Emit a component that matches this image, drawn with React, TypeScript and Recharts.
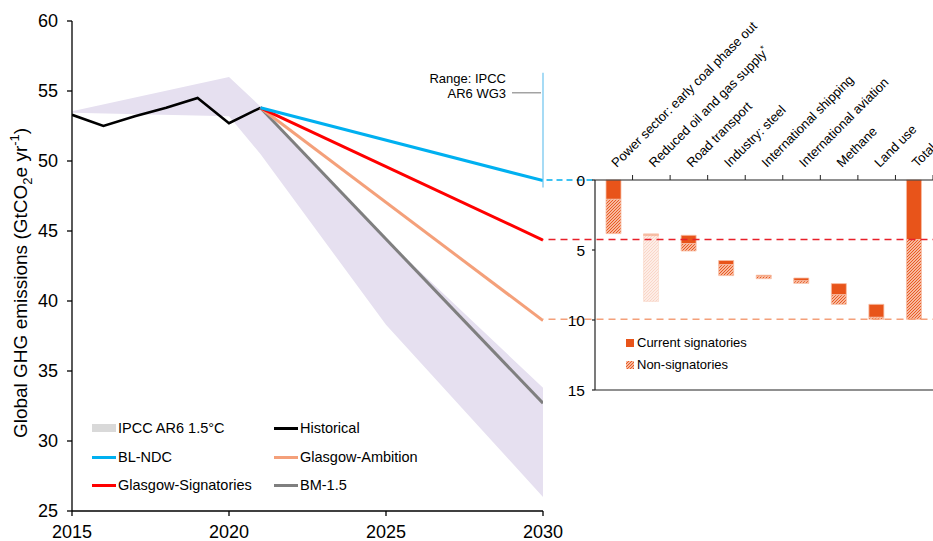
import React from 'react'
import {
  ComposedChart,
  Area,
  Line,
  Bar,
  Cell,
  XAxis,
  YAxis,
  ReferenceLine,
} from 'recharts'

// ---- left panel: global GHG emissions, GtCO2e/yr ----
const histYears = [2015, 2016, 2017, 2018, 2019, 2020, 2021]
const histValues = [53.3, 52.5, 53.2, 53.8, 54.5, 52.7, 53.8]

const rangeYears = [2015, 2020, 2021, 2025, 2030]
const rangeLow = [53.45, 53.2, 50.5, 38.3, 26.0]
const rangeHigh = [53.55, 56.0, 53.9, 44.4, 33.8]

const scenarioYears = [2021, 2030]
const blNdc = [53.8, 48.6]
const glasgowSignatories = [53.8, 44.35]
const glasgowAmbition = [53.8, 38.6]
const bm15 = [53.8, 32.7]

const ipccRange2030 = [48.1, 56.3]

const yearTicks = [2015, 2020, 2025, 2030]
const emissionTicks = [25, 30, 35, 40, 45, 50, 55, 60]

// ---- right panel: gap closed by each Glasgow measure ----
const measures = [
  'Power sector: early coal phase out',
  'Reduced oil and gas supply*',
  'Road transport',
  'Industry: steel',
  'International shipping',
  'International aviation',
  'Methane',
  'Land use',
  'Total',
]
const measureStart = [0, 3.85, 3.95, 5.75, 6.8, 7.0, 7.4, 8.88, 0]
const currentSignatories = [1.38, 0.12, 0.6, 0.3, 0.07, 0.2, 0.8, 0.93, 4.25]
const nonSignatories = [2.45, 4.7, 0.52, 0.78, 0.18, 0.18, 0.68, 0.14, 5.7]
const notInTotal = ['Reduced oil and gas supply*']
const gapTicks = [0, 5, 10, 15]

const COLORS = {
  hist: '#000000',
  blNdc: '#00b0f0',
  signatories: '#ff0000',
  ambition: '#f4a07a',
  bm: '#7f7f7f',
  range: '#e6e0f0',
  ipccSwatch: '#d9d9d9',
  bar: '#e8541a',
  barEdge: '#f7bea5',
}

const toSeries = (years: number[], values: number[]) =>
  years.map((year, i) => ({ year, value: values[i] }))

const histData = toSeries(histYears, histValues)
const rangeData = rangeYears.map((year, i) => ({ year, range: [rangeLow[i], rangeHigh[i]] }))

const gapData = measures.map((name, i) => ({
  name,
  start: measureStart[i],
  current: currentSignatories[i],
  non: nonSignatories[i],
}))
const totalCurrent = currentSignatories[currentSignatories.length - 1]
const totalGap = totalCurrent + nonSignatories[nonSignatories.length - 1]

// layout
const LEFT_W = 580
const RIGHT_X = 543 // right panel starts where the 2030 axis ends
const RIGHT_W = 400
const GAP_AXIS_W = 52
const GAP_MARGIN_R = 10
const bandW = (RIGHT_W - GAP_AXIS_W - GAP_MARGIN_R) / measures.length
const linkStart = -GAP_AXIS_W / bandW
const totalCenter = measures.length - 0.5

const legendItems = [
  { label: 'IPCC AR6 1.5°C', color: COLORS.ipccSwatch, box: true },
  { label: 'Historical', color: COLORS.hist },
  { label: 'BL-NDC', color: COLORS.blNdc },
  { label: 'Glasgow-Ambition', color: COLORS.ambition },
  { label: 'Glasgow-Signatories', color: COLORS.signatories },
  { label: 'BM-1.5', color: COLORS.bm },
]

function EmissionsTitle() {
  return (
    <text x={27} y={283} transform="rotate(-90 27 283)" textAnchor="middle" fontSize={19} fill="#000">
      Global GHG emissions (GtCO
      <tspan dy={5} fontSize={13}>2</tspan>
      <tspan dy={-5}>e yr</tspan>
      <tspan dy={-8} fontSize={13}>-1</tspan>
      <tspan dy={8}>)</tspan>
    </text>
  )
}

function RangeNote(props: any) {
  const { x, y } = props.viewBox
  return (
    <g fontSize={13} fill="#000">
      <text x={x - 37} y={y + 10.5} textAnchor="end">Range: IPCC</text>
      <text x={x - 37} y={y + 25} textAnchor="end">AR6 WG3</text>
      <line x1={x - 31} x2={x - 2} y1={y + 20} y2={y + 20} stroke="#8c8c8c" strokeWidth={1.2} />
    </g>
  )
}

function MeasureTick(props: any) {
  const { x, y, payload } = props
  const label: string = payload.value
  const star = label.endsWith('*')
  const tx = x + 3
  const ty = y - 12
  return (
    <g>
      <line x1={x + bandW / 2} x2={x + bandW / 2} y1={y} y2={y - 5} stroke="#222" />
      <text x={tx} y={ty} transform={`rotate(-45 ${tx} ${ty})`} fontSize={13} fill="#000">
        {star ? label.slice(0, -1) : label}
        {star && <tspan dy={-5} fontSize={9}>*</tspan>}
      </text>
    </g>
  )
}

function HatchSwatch() {
  return (
    <svg width={8} height={8} style={{ marginRight: 3 }}>
      <defs>
        <pattern id="hatchLegend" patternUnits="userSpaceOnUse" width={3} height={3}>
          <rect width={3} height={3} fill="#fde1d3" />
          <path d="M-1,1 l2,-2 M0,3 l3,-3 M2,4 l2,-2" stroke={COLORS.bar} strokeWidth={1.1} />
        </pattern>
      </defs>
      <rect width={8} height={8} fill="url(#hatchLegend)" />
    </svg>
  )
}

export default function App() {
  const legendCols = [92, 274]
  const legendRows = [428, 457, 485]
  return (
    <div
      style={{
        position: 'absolute',
        left: 0,
        top: 0,
        width: 933,
        height: 541,
        overflow: 'hidden',
        background: '#fff',
        fontFamily: "'Liberation Sans', Arial, sans-serif",
      }}
    >
      <div style={{ position: 'absolute', left: 0, top: 0 }}>
        <ComposedChart width={LEFT_W} height={541} margin={{ top: 21, right: LEFT_W - 543, bottom: 0, left: 22 }}>
          <XAxis
            dataKey="year"
            type="number"
            domain={[2015, 2030]}
            ticks={yearTicks}
            allowDataOverflow
            height={30}
            tickSize={5}
            tickMargin={9}
            stroke="#000"
            strokeWidth={1.3}
            tick={{ fill: '#000', fontSize: 18 }}
          />
          <YAxis
            type="number"
            domain={[25, 60]}
            ticks={emissionTicks}
            width={50}
            tickSize={5}
            tickMargin={9}
            stroke="#000"
            strokeWidth={1.3}
            tick={{ fill: '#000', fontSize: 18 }}
            label={() => <EmissionsTitle />}
          />
          <Area
            data={rangeData}
            dataKey="range"
            type="linear"
            stroke="none"
            fill={COLORS.range}
            fillOpacity={1}
            isAnimationActive={false}
          />
          <Line data={histData} dataKey="value" type="linear" stroke={COLORS.hist} strokeWidth={2.5} dot={false} isAnimationActive={false} />
          <Line data={toSeries(scenarioYears, bm15)} dataKey="value" type="linear" stroke={COLORS.bm} strokeWidth={3} dot={false} isAnimationActive={false} />
          <Line data={toSeries(scenarioYears, glasgowAmbition)} dataKey="value" type="linear" stroke={COLORS.ambition} strokeWidth={3} dot={false} isAnimationActive={false} />
          <Line data={toSeries(scenarioYears, glasgowSignatories)} dataKey="value" type="linear" stroke={COLORS.signatories} strokeWidth={3} dot={false} isAnimationActive={false} />
          <Line data={toSeries(scenarioYears, blNdc)} dataKey="value" type="linear" stroke={COLORS.blNdc} strokeWidth={3} dot={false} isAnimationActive={false} />
          <ReferenceLine
            segment={[
              { x: 2030, y: ipccRange2030[0] },
              { x: 2030, y: ipccRange2030[1] },
            ]}
            stroke="#6cc3ee"
            strokeWidth={1.2}
            ifOverflow="visible"
            label={(p: any) => <RangeNote {...p} />}
          />
        </ComposedChart>
      </div>

      {legendItems.map((item, i) => (
        <div
          key={item.label}
          style={{
            position: 'absolute',
            left: legendCols[i % 2],
            top: legendRows[Math.floor(i / 2)] - 10,
            height: 20,
            display: 'flex',
            alignItems: 'center',
            fontSize: 14.5,
            color: '#000',
            whiteSpace: 'nowrap',
          }}
        >
          <span
            style={{
              display: 'inline-block',
              width: 24,
              height: item.box ? 8 : 3,
              background: item.color,
              marginRight: 2,
            }}
          />
          {item.label}
        </div>
      ))}

      <div style={{ position: 'absolute', left: RIGHT_X, top: 0 }}>
        <ComposedChart
          width={RIGHT_W}
          height={400}
          data={gapData}
          barSize={15}
          margin={{ top: 150, right: GAP_MARGIN_R, bottom: 10, left: 0 }}
        >
          <defs>
            <pattern id="hatch" patternUnits="userSpaceOnUse" width={3} height={3}>
              <rect width={3} height={3} fill="#fde1d3" />
              <path d="M-1,1 l2,-2 M0,3 l3,-3 M2,4 l2,-2" stroke={COLORS.bar} strokeWidth={1.1} />
            </pattern>
          </defs>
          <XAxis
            xAxisId="cat"
            dataKey="name"
            type="category"
            orientation="top"
            height={30}
            interval={0}
            tickSize={0}
            tickMargin={0}
            stroke="#222"
            strokeWidth={1.2}
            tick={<MeasureTick />}
          />
          <XAxis xAxisId="pos" type="number" domain={[0, measures.length]} allowDataOverflow hide />
          <YAxis
            type="number"
            domain={[0, 15]}
            reversed
            ticks={gapTicks}
            width={GAP_AXIS_W}
            tickSize={3}
            tickMargin={7}
            stroke="#222"
            strokeWidth={1.2}
            tick={{ fill: '#000', fontSize: 15.5 }}
          />
          <ReferenceLine xAxisId="cat" y={15} stroke="#222" strokeWidth={1.2} />
          <ReferenceLine
            xAxisId="pos"
            segment={[
              { x: linkStart, y: 0 },
              { x: 0, y: 0 },
            ]}
            stroke={COLORS.blNdc}
            strokeWidth={1.5}
            strokeDasharray="6 4"
            ifOverflow="visible"
          />
          <ReferenceLine
            xAxisId="pos"
            segment={[
              { x: linkStart, y: totalCurrent },
              { x: totalCenter, y: totalCurrent },
            ]}
            stroke="#e8202a"
            strokeWidth={1.5}
            strokeDasharray="7 5"
            ifOverflow="visible"
          />
          <ReferenceLine
            xAxisId="pos"
            segment={[
              { x: linkStart, y: totalGap },
              { x: totalCenter, y: totalGap },
            ]}
            stroke={COLORS.ambition}
            strokeWidth={1.5}
            strokeDasharray="7 5"
            ifOverflow="visible"
          />
          <Bar xAxisId="cat" dataKey="start" stackId="w" fill="transparent" isAnimationActive={false} />
          <Bar xAxisId="cat" dataKey="current" stackId="w" fill={COLORS.bar} stroke={COLORS.barEdge} strokeWidth={0.8} isAnimationActive={false}>
            {gapData.map((d) => (
              <Cell key={d.name} fillOpacity={notInTotal.includes(d.name) ? 0.4 : 1} />
            ))}
          </Bar>
          <Bar xAxisId="cat" dataKey="non" stackId="w" fill="url(#hatch)" stroke={COLORS.barEdge} strokeWidth={0.8} isAnimationActive={false}>
            {gapData.map((d) => (
              <Cell key={d.name} fillOpacity={notInTotal.includes(d.name) ? 0.25 : 1} strokeOpacity={notInTotal.includes(d.name) ? 0.4 : 1} />
            ))}
          </Bar>
        </ComposedChart>
      </div>

      <div style={{ position: 'absolute', left: 626, top: 333, fontSize: 13, color: '#000', lineHeight: '20px' }}>
        <div style={{ display: 'flex', alignItems: 'center', height: 20 }}>
          <span style={{ display: 'inline-block', width: 8, height: 8, background: COLORS.bar, marginRight: 3 }} />
          Current signatories
        </div>
        <div style={{ display: 'flex', alignItems: 'center', height: 20, marginTop: 2 }}>
          <HatchSwatch />
          Non-signatories
        </div>
      </div>
    </div>
  )
}
